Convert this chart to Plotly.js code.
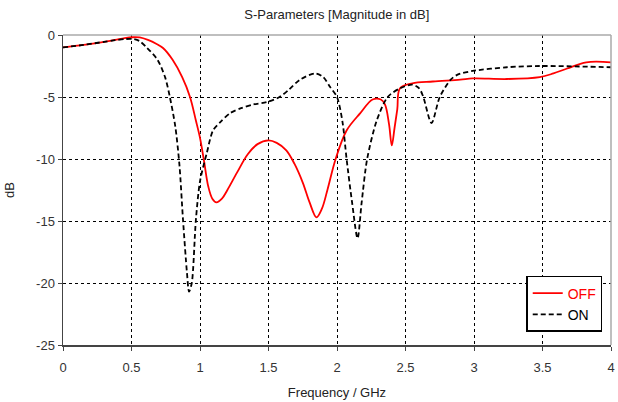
<!DOCTYPE html>
<html><head><meta charset="utf-8">
<script src="https://cdn.plot.ly/plotly-3.0.1.min.js"></script>
<style>body{margin:0;background:#fff}#c{width:618px;height:402px}</style>
</head><body><div id="c"></div>
<script>
var offFreq = [0, 0.15, 0.3, 0.38, 0.45, 0.51, 0.56, 0.62, 0.68, 0.73, 0.80, 0.87, 0.927, 0.97, 1.0, 1.03, 1.06, 1.09, 1.12, 1.16, 1.20, 1.27, 1.35, 1.42, 1.5, 1.56, 1.63, 1.69, 1.75, 1.8, 1.85, 1.89, 1.93, 1.99, 2.07, 2.17, 2.26, 2.32, 2.35, 2.38, 2.40, 2.42, 2.44, 2.46, 2.55, 2.7, 2.9, 2.99, 3.24, 3.48, 3.58, 3.68, 3.82, 4.0];
var offDb   = [-1.0, -0.8, -0.55, -0.4, -0.25, -0.18, -0.2, -0.4, -0.7, -1.05, -2.0, -3.4, -5.0, -6.9, -8.3, -10.2, -12.2, -13.2, -13.5, -13.2, -12.5, -11.1, -9.6, -8.8, -8.5, -8.7, -9.3, -10.4, -11.9, -13.5, -14.7, -14.0, -12.5, -10, -7.7, -6.3, -5.2, -5.2, -5.6, -7.2, -8.9, -7.5, -6.0, -4.3, -3.9, -3.75, -3.6, -3.5, -3.55, -3.4, -3.1, -2.7, -2.2, -2.2];
var onFreq  = [0, 0.15, 0.3, 0.38, 0.45, 0.51, 0.56, 0.61, 0.69, 0.745, 0.78, 0.82, 0.85, 0.876, 0.905, 0.92, 0.94, 0.97, 1.0, 1.05, 1.095, 1.15, 1.22, 1.3, 1.39, 1.49, 1.58, 1.65, 1.73, 1.84, 1.9, 1.95, 2.0, 2.04, 2.07, 2.11, 2.15, 2.18, 2.22, 2.29, 2.37, 2.46, 2.55, 2.6, 2.63, 2.69, 2.75, 2.83, 2.88, 2.99, 3.24, 3.48, 4.0];
var onDb    = [-1.0, -0.8, -0.55, -0.42, -0.33, -0.32, -0.5, -1.0, -2.0, -3.4, -5.0, -7.4, -10.5, -14.9, -19.2, -20.7, -20, -14.9, -11.8, -9.5, -7.7, -7.0, -6.3, -5.9, -5.6, -5.4, -5.0, -4.4, -3.6, -3.1, -3.4, -4.2, -5.0, -7.0, -10, -13.5, -16.4, -13.5, -10, -6.9, -5.0, -4.3, -4.0, -4.3, -5.0, -7.1, -5.0, -3.6, -3.2, -2.9, -2.6, -2.5, -2.6];
var xTicks = [0, 0.5, 1, 1.5, 2, 2.5, 3, 3.5, 4];
var yTicks = [0, -5, -10, -15, -20, -25];
var xTickLabels = ['0', '0.5', '1', '1.5', '2', '2.5', '3', '3.5', '4'];
var yTickLabels = ['0', '-5', '-10', '-15', '-20', '-25'];
var seriesNames = ['OFF', 'ON'];

var font = 'Liberation Sans Narrow, Liberation Sans, DejaVu Sans, sans-serif';
var traces = [
  {x: offFreq, y: offDb, name: seriesNames[0], mode: 'lines', line: {color: '#ff0000', width: 1.8, shape: 'spline', smoothing: 1}},
  {x: onFreq, y: onDb, name: seriesNames[1], mode: 'lines', line: {color: '#000000', width: 1.8, dash: '5px,3px', shape: 'spline', smoothing: 0.8}}
];
var layout = {
  width: 618, height: 402,
  margin: {l: 63, r: 7, t: 35, b: 57},
  paper_bgcolor: '#fff', plot_bgcolor: '#fff',
  font: {family: font, size: 12, color: '#222'},
  title: {text: 'S-Parameters [Magnitude in dB]', x: 0.545, xanchor: 'center', y: 0.965, yanchor: 'middle', font: {family: font, size: 13, color: '#222'}},
  xaxis: {range: [0, 4], tickvals: xTicks, ticktext: xTickLabels, showgrid: true, gridcolor: '#000', griddash: 'dot', gridwidth: 1,
    zeroline: false, showline: true, linecolor: '#444', linewidth: 1.5, mirror: false, ticks: 'outside', ticklen: 4, tickcolor: '#444',
    ticklabelstandoff: 6,
    title: {text: 'Frequency / GHz', font: {family: font, size: 13, color: '#222'}, standoff: 14}, tickfont: {family: font, size: 13, color: '#333'}},
  yaxis: {range: [-25, 0], tickvals: yTicks, ticktext: yTickLabels, showgrid: true, gridcolor: '#000', griddash: 'dot', gridwidth: 1,
    zeroline: false, showline: true, linecolor: '#444', linewidth: 1.5, ticks: 'outside', ticklen: 4, tickcolor: '#444',
    title: {text: 'dB', font: {family: font, size: 13, color: '#222'}, standoff: 18}, tickfont: {family: font, size: 13, color: '#333'}},
  shapes: [
    {type: 'line', xref: 'paper', yref: 'paper', x0: 0, x1: 1, y0: 1, y1: 1, line: {color: '#aaa', width: 1.5}},
    {type: 'line', xref: 'paper', yref: 'paper', x0: 1, x1: 1, y0: 0, y1: 1, line: {color: '#aaa', width: 1.5}}
  ],
  legend: {x: 0.984, xanchor: 'right', y: 0.042, yanchor: 'bottom', bgcolor: '#fff', bordercolor: '#000', borderwidth: 1.5,
    font: {family: font, size: 14, color: '#000'}, tracegroupgap: 4, itemwidth: 30},
  showlegend: true
};
Plotly.newPlot('c', traces, layout, {displayModeBar: false, staticPlot: true}).then(function(){
  var items = document.querySelectorAll('.legendtext');
  if (items[0]) items[0].style.fill = '#ff0000';
});
</script></body></html>
